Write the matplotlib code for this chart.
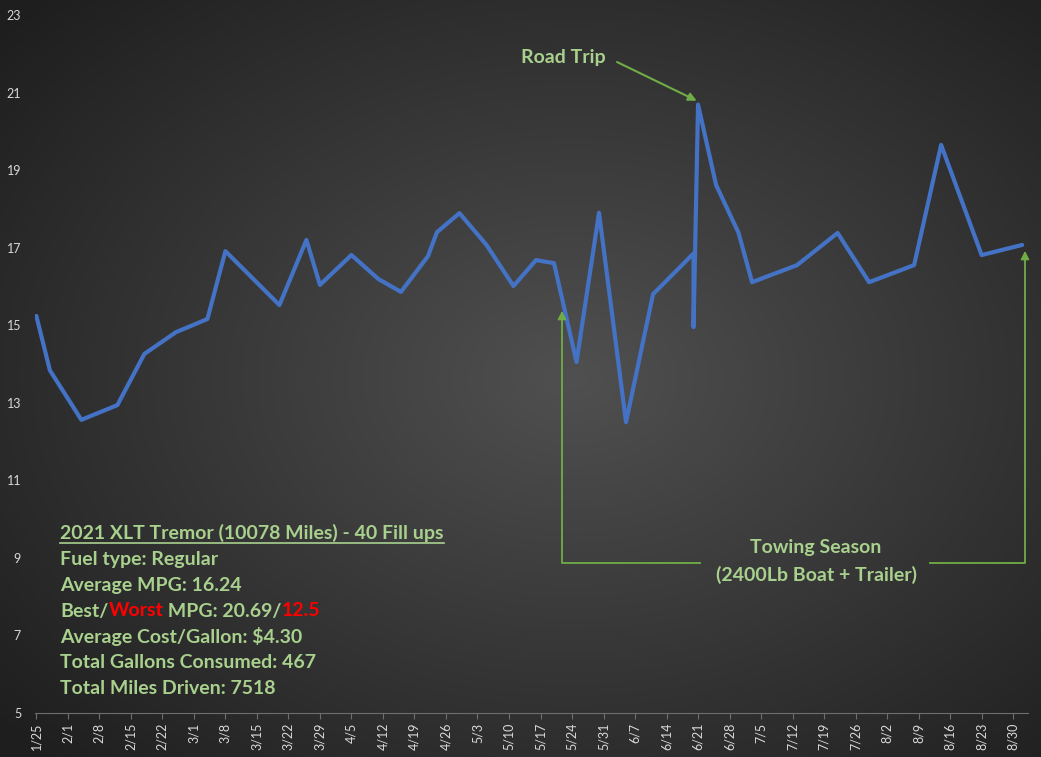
import matplotlib
matplotlib.use('Agg')
import matplotlib.pyplot as plt
import matplotlib.dates as mdates
import numpy as np
import pandas as pd

# ---------------- data ----------------
fill_dates = ['2022-01-25', '2022-01-28', '2022-02-04', '2022-02-12', '2022-02-18',
              '2022-02-25', '2022-03-04', '2022-03-08', '2022-03-20', '2022-03-26',
              '2022-03-29', '2022-04-05', '2022-04-11', '2022-04-16', '2022-04-22',
              '2022-04-24', '2022-04-29', '2022-05-05', '2022-05-11', '2022-05-16',
              '2022-05-20', '2022-05-25', '2022-05-30', '2022-06-05', '2022-06-11',
              '2022-06-20', '2022-06-20', '2022-06-21', '2022-06-25', '2022-06-30',
              '2022-07-03', '2022-07-13', '2022-07-22', '2022-07-29', '2022-08-08',
              '2022-08-14', '2022-08-23', '2022-09-01']
mpg = [15.24, 13.84, 12.56, 12.94, 14.26, 14.82, 15.16, 16.91, 15.52, 17.20,
       16.04, 16.81, 16.19, 15.86, 16.78, 17.40, 17.89, 17.07, 16.01, 16.68,
       16.60, 14.05, 17.90, 12.50, 15.80, 16.85, 14.95, 20.69, 18.62, 17.38,
       16.11, 16.55, 17.38, 16.11, 16.55, 19.65, 16.81, 17.07]

tick_dates = ['2022-01-25', '2022-02-01', '2022-02-08', '2022-02-15', '2022-02-22',
              '2022-03-01', '2022-03-08', '2022-03-15', '2022-03-22', '2022-03-29',
              '2022-04-05', '2022-04-12', '2022-04-19', '2022-04-26', '2022-05-03',
              '2022-05-10', '2022-05-17', '2022-05-24', '2022-05-31', '2022-06-07',
              '2022-06-14', '2022-06-21', '2022-06-28', '2022-07-05', '2022-07-12',
              '2022-07-19', '2022-07-26', '2022-08-02', '2022-08-09', '2022-08-16',
              '2022-08-23', '2022-08-30']
tick_labels = ['1/25', '2/1', '2/8', '2/15', '2/22', '3/1', '3/8', '3/15', '3/22',
               '3/29', '4/5', '4/12', '4/19', '4/26', '5/3', '5/10', '5/17', '5/24',
               '5/31', '6/7', '6/14', '6/21', '6/28', '7/5', '7/12', '7/19', '7/26',
               '8/2', '8/9', '8/16', '8/23', '8/30']
y_ticks = [5, 7, 9, 11, 13, 15, 17, 19, 21, 23]

stats_lines = [
    [("2021 XLT Tremor (10078 Miles) - 40 Fill ups", 'g')],
    [("Fuel type: Regular", 'g')],
    [("Average MPG: 16.24", 'g')],
    [("Best/", 'g'), ("Worst", 'r'), (" MPG: 20.69/", 'g'), ("12.5", 'r')],
    [("Average Cost/Gallon: $4.30", 'g')],
    [("Total Gallons Consumed: 467", 'g')],
    [("Total Miles Driven: 7518", 'g')],
]

# ---------------- styling ----------------
plt.rcParams['font.family'] = ['Lato', 'DejaVu Sans']
W, H = 1041, 757
GREEN_TXT = '#a9d18e'
GREEN_LN = '#70ad47'
RED = '#ff0000'
BLUE = '#4472c4'
TICK_COL = '#d9d9d9'
FS = 14

fig = plt.figure(figsize=(W / 100, H / 100), dpi=100)

# radial gradient background
bg = fig.add_axes([0, 0, 1, 1], zorder=0)
yy, xx = np.mgrid[0:H, 0:W]
r = np.sqrt(((xx - 0.55 * W) / W) ** 2 + ((yy - 0.5 * H) / H) ** 2)
g = 80 - (80 - 30) * np.clip(r / 0.72, 0, 1)
img = np.dstack([g, g, g]) / 255.0
bg.imshow(img, aspect='auto', extent=[0, 1, 0, 1], origin='upper')
bg.set_axis_off()

ax = fig.add_axes([35 / W, 1 - 713 / H, (1028 - 35) / W, (713 - 15) / H], zorder=1)
ax.set_facecolor('none')

x = pd.to_datetime(fill_dates)
ax.plot(x, mpg, color=BLUE, lw=3.0, solid_joinstyle='round', solid_capstyle='round',
        zorder=3)

x0 = mdates.date2num(pd.Timestamp('2022-01-25'))
ax.set_xlim(x0 - 0.3, x0 + 220.3)
ax.set_ylim(5, 23)

ax.set_yticks(y_ticks)
ax.set_yticklabels([str(v) for v in y_ticks])
ax.tick_params(axis='y', length=0, pad=10, labelcolor=TICK_COL, labelsize=9)
ax.set_xticks(pd.to_datetime(tick_dates))
ax.set_xticklabels(tick_labels, rotation=90)
ax.tick_params(axis='x', length=4, width=0.8, color='#6e6e6e', pad=3,
               labelcolor=TICK_COL, labelsize=9)
for s in ['top', 'right', 'left']:
    ax.spines[s].set_visible(False)
ax.spines['bottom'].set_color('#6e6e6e')
ax.spines['bottom'].set_linewidth(0.8)


def fp(px, py):
    return (px / W, 1 - py / H)


# Road Trip annotation
imax = int(np.argmax(mpg))
ax.annotate('', xy=(mdates.date2num(x[imax]) - 0.3, mpg[imax] + 0.1),
            xytext=fp(617, 62), textcoords='figure fraction',
            arrowprops=dict(arrowstyle='-|>', color=GREEN_LN, lw=1.5,
                            mutation_scale=12, shrinkA=0, shrinkB=0))
fig.text(*fp(563, 58), 'Road Trip', color=GREEN_TXT, fontsize=FS,
         fontweight='bold', ha='center', va='center', zorder=5)

# Towing Season bracket
def fline(pts):
    xs = [p[0] / W for p in pts]
    ys = [1 - p[1] / H for p in pts]
    fig.add_artist(plt.Line2D(xs, ys, color=GREEN_LN, lw=1.3, transform=fig.transFigure,
                              zorder=4))

fline([(562, 318), (562, 563), (700, 563)])
fline([(930, 563), (1025, 563), (1025, 258)])
for px, py in [(562, 308), (1025, 248)]:
    fig.add_artist(matplotlib.patches.FancyArrowPatch(
        fp(px, py + 12), fp(px, py), transform=fig.transFigure,
        arrowstyle='-|>', mutation_scale=12, color=GREEN_LN, lw=1.3, zorder=4))
fig.text(*fp(816, 548), 'Towing Season', color=GREEN_TXT, fontsize=FS,
         fontweight='bold', ha='center', va='center', zorder=5)
fig.text(*fp(816, 575), '(2400Lb Boat + Trailer)', color=GREEN_TXT, fontsize=FS,
         fontweight='bold', ha='center', va='center', zorder=5)

# Stats block
fig.canvas.draw()
renderer = fig.canvas.get_renderer()
y_px = 533
for i, line in enumerate(stats_lines):
    cur_x = 60
    for txt, c in line:
        t = fig.text(cur_x / W, 1 - y_px / H, txt, color=GREEN_TXT if c == 'g' else RED,
                     fontsize=FS, fontweight='bold', ha='left', va='center', zorder=5)
        bb = t.get_window_extent(renderer=renderer)
        if i == 0:
            fig.add_artist(plt.Line2D([bb.x0 / W, bb.x1 / W],
                                      [(1 - (y_px + 10) / H)] * 2,
                                      color=GREEN_TXT, lw=1.2, transform=fig.transFigure))
        cur_x += bb.width
    y_px += 26

fig.savefig('out.png', dpi=100)
